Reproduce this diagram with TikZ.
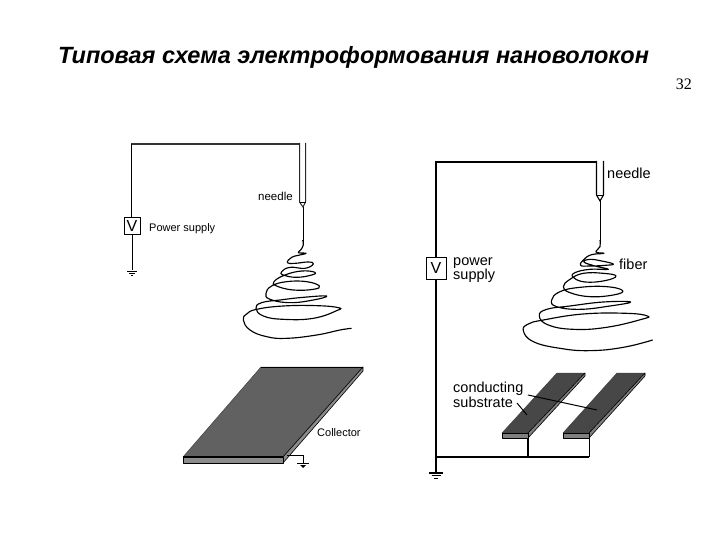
\documentclass[tikz,border=0pt]{standalone}
\usepackage{fontspec}
\setmainfont{Liberation Sans}
\newfontfamily\numfont{Liberation Serif}
\tikzset{
  lab/.style={inner sep=0pt,anchor=base west,text=black},
  vbox/.style={draw=black,line width=0.8pt,fill=white,inner sep=0pt,minimum width=#1,minimum height=#1*1.1,font=\fontsize{16}{16}\selectfont},
  wire/.style={line width=0.8pt,black},
  thick wire/.style={line width=1.7pt,black},
  fiberline/.style={line width=1.15pt,black,line join=round},
  plate/.style={fill=black!62,draw=black!75,line width=0.5pt,line join=round},
  edgeplate/.style={fill=black!45,draw=black,line width=0.6pt,line join=round},
}
\begin{document}
\begin{tikzpicture}[x=1pt,y=-1pt]
\useasboundingbox (0,0) rectangle (720,540);
% title
\node (title) [inner sep=0pt,anchor=base west] at (58,64) {\fontsize{23.5}{26}\selectfont\bfseries\itshape Типовая схема электроформования нановолокон};
\node (pageno) [inner sep=0pt,anchor=base east] at (692,90) {\numfont\fontsize{16}{18}\selectfont 32};

% ---------- left diagram ----------
\coordinate (LtopL) at (131,144);
\coordinate (LtopR) at (300,144);
\node (Lv) [vbox=16pt] at (132,226) {V};
\coordinate (Lgnd) at (132,270);
\draw[wire,black!80,line width=1.3pt] (LtopL) -- (LtopR);
\draw[wire] (LtopL) -- (Lv.north -| LtopL);
\draw[wire] (Lv.south) -- (Lgnd);
\draw[wire] (127,271.5) -- (137,271.5);
\draw[wire] (129,273.5) -- (135,273.5);
\draw[wire] (131,275.5) -- (133,275.5);
% needle
\draw[line width=1pt,black!85] (299.5,143) -- (299.5,202) -- (303,207) -- (305.5,202) -- (305.5,143);
\draw[line width=0.5pt] (299.5,202) -- (305.5,202);
\draw[wire] (303,207) -- (303,242);
\node (Lneedle) [lab,font=\fontsize{11.5}{12}\selectfont] at (258,201) {needle};
\node (Lpower) [lab,font=\fontsize{11}{12}\selectfont] at (149,232) {Power supply};
% left fibre
\begin{scope}[shift={(230,240)},x=0.3333pt,y=-0.3333pt]
\draw[fiberline] plot[smooth,tension=0.75] coordinates {(218,0)(220,15)(212,30)(205,38)(228,40)(205,46)(185,52)(172,68)(195,70)(235,66)(250,72)(225,85)(180,82)(155,95)(160,105)(200,112)(245,105)(255,97)(215,93)(165,105)(132,125)(140,138)(190,150)(250,148)(268,138)(230,125)(170,125)(125,138)(108,160)(120,178)(180,188)(250,180)(290,168)(220,172)(150,180)(95,188)(78,205)(100,228)(160,238)(250,235)(320,212)(325,203)(260,197)(160,198)(80,208)(50,222)(40,240)(60,270)(110,290)(170,295)(260,285)(330,270)(365,265)};
\end{scope}
% collector
\coordinate (Ca) at (261,367);
\coordinate (Cb) at (363,367);
\coordinate (Cc) at (283,457);
\coordinate (Cd) at (183,457);
\draw[plate] (Ca) -- (Cb) -- (Cc) -- (Cd) -- cycle;
\draw[edgeplate] (Cb) -- (363,371) -- (283,463) -- (Cc) -- cycle;
\draw[edgeplate] (Cd) -- (Cc) -- (283,463) -- (183,463) -- cycle;
\draw[line width=1pt] (Ca) -- (Cb);
\draw[line width=1.2pt] (Cd) -- (Cc);
\coordinate (CgS) at (287,455);
\coordinate (CgC) at (303,455);
\coordinate (CgE) at (303,463);
\draw[wire,line width=0.6pt] (CgS) -- (CgC) -- (CgE);
\draw[wire,line width=0.6pt] (297,463.5) -- (309,463.5);
\fill (300,465) -- (306,465) -- (303,468) -- cycle;
\node (Lcoll) [lab,font=\fontsize{11}{12}\selectfont] at (317,436) {Collector};

% ---------- right diagram ----------
\coordinate (RtopL) at (436,162);
\coordinate (RtopR) at (597,162);
\node (Rv) [vbox=20pt] at (436,268) {V};
\coordinate (Rjoin) at (436,457);
\coordinate (Rgnd) at (436,472);
\draw[thick wire] (Rv.north -| RtopL) -- (RtopL) -- (RtopR);
\draw[thick wire] (Rv.south -| RtopL) -- (Rgnd);
\draw[wire,line width=1.2pt] (429,473) -- (443,473);
\draw[wire,line width=1.2pt] (431.5,475.5) -- (440.5,475.5);
\draw[wire,line width=1pt] (434,478) -- (438,478);
% needle
\draw[line width=1.1pt] (596.5,161) -- (596.5,195) -- (600,201) -- (603.5,195) -- (603.5,161);
\draw[line width=0.5pt] (596.5,195) -- (603.5,195);
\draw[wire] (600,201) -- (600,241);
\node (Rneedle) [lab,font=\fontsize{14.5}{15}\selectfont] at (607,179) {needle};
\node (Rfiber) [lab,font=\fontsize{14.5}{15}\selectfont] at (619,269) {fiber};
\node (Rpower) [lab,font=\fontsize{14.5}{15}\selectfont] at (453,265) {power};
\node (Rsupply) [lab,font=\fontsize{14.5}{15}\selectfont] at (453,279) {supply};
% right fibre
\begin{scope}[shift={(510,240)},x=0.3333pt,y=-0.3333pt]
\draw[fiberline] plot[smooth,tension=0.75] coordinates {(270,0)(270,20)(258,36)(282,40)(245,44)(222,58)(212,76)(240,78)(285,76)(310,72)(270,62)(240,58)(222,66)(255,78)(295,88)(240,88)(195,98)(190,112)(225,126)(285,122)(318,108)(280,100)(220,100)(180,118)(160,140)(180,158)(240,170)(310,165)(338,152)(290,140)(210,142)(150,155)(125,180)(140,200)(210,208)(300,198)(362,186)(280,186)(180,198)(110,208)(88,228)(115,255)(190,268)(290,262)(395,238)(412,228)(350,220)(220,222)(100,240)(55,252)(40,272)(70,305)(150,325)(240,332)(340,322)(428,300)};
\end{scope}
% strips
\draw[plate,fill=black!72] (557,373) -- (585,373) -- (528,433) -- (502,433) -- cycle;
\draw[edgeplate,fill=black!50] (585,373) -- (585,376) -- (528,438) -- (528,433) -- cycle;
\draw[edgeplate,fill=black!50] (502,433) -- (528,433) -- (528,438) -- (502,438) -- cycle;
\draw[plate,fill=black!72] (617,373) -- (645,373) -- (589,433) -- (563,433) -- cycle;
\draw[edgeplate,fill=black!50] (645,373) -- (645,376) -- (589,438) -- (589,433) -- cycle;
\draw[edgeplate,fill=black!50] (563,433) -- (589,433) -- (589,438) -- (563,438) -- cycle;
\coordinate (Sa) at (528,438);
\coordinate (Sb) at (589,438);
\coordinate (Ja) at (528,457);
\coordinate (Jb) at (589,457);
\draw[thick wire,line width=1.3pt] (Rjoin) -- (Jb);
\draw[thick wire,line width=1.3pt] (Sa) -- (Ja);
\draw[wire] (Sb) -- (Jb);
\node (Rcond) [lab,font=\fontsize{14.5}{15}\selectfont] at (453,392) {conducting};
\node (Rsub) [lab,font=\fontsize{14.5}{15}\selectfont] at (453,407) {substrate};
\coordinate (Pa) at (528,395);
\coordinate (Pb) at (597,410);
\coordinate (Pc) at (517,403);
\coordinate (Pd) at (527,415);
\draw[wire,line width=1pt] (Pa) -- (Pb);
\draw[wire,line width=1pt] (Pc) -- (Pd);
\end{tikzpicture}
\end{document}
